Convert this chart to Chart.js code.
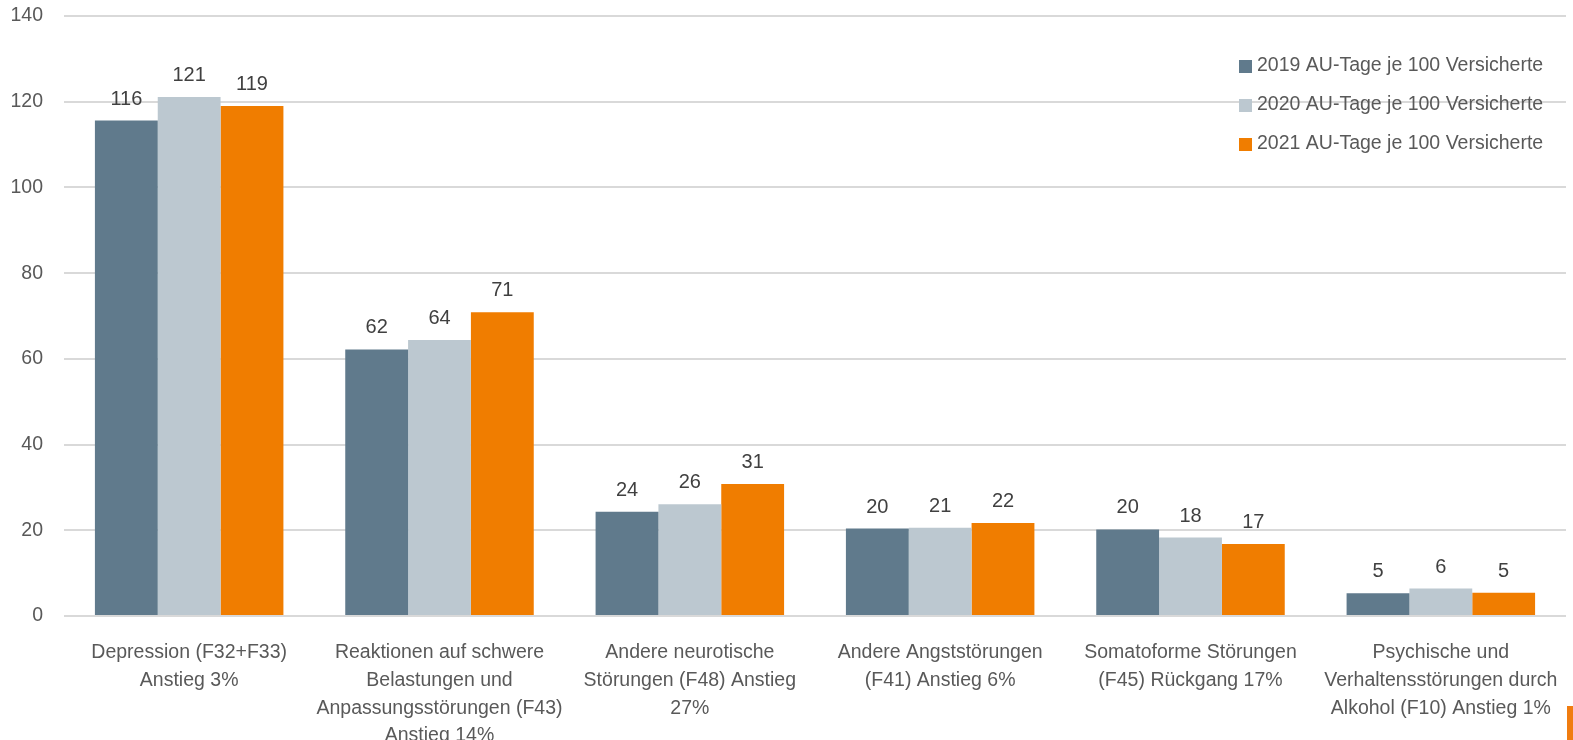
<!DOCTYPE html>
<html>
<head>
<meta charset="utf-8">
<script src="https://cdn.jsdelivr.net/npm/chart.js@4/dist/chart.umd.min.js"></script>
<style>
  html, body { margin: 0; padding: 0; background: #fff; }
  .wrap { position: relative; width: 1573px; height: 740px; }
  .corner { position: absolute; left: 1567px; top: 706px; width: 6px; height: 34px; background: #f07c10; }
</style>
</head>
<body>
<div class="wrap">
  <canvas id="chart" width="1573" height="740"></canvas>
  <div class="corner"></div>
</div>
<script>
const categories = [
  ["Depression (F32+F33)", "Anstieg 3%"],
  ["Reaktionen auf schwere", "Belastungen und", "Anpassungsstörungen (F43)", "Anstieg 14%"],
  ["Andere neurotische", "Störungen (F48) Anstieg", "27%"],
  ["Andere Angststörungen", "(F41) Anstieg 6%"],
  ["Somatoforme Störungen", "(F45) Rückgang 17%"],
  ["Psychische und", "Verhaltensstörungen durch", "Alkohol (F10) Anstieg 1%"],
];
const seriesNames = [
  "2019 AU-Tage je 100 Versicherte",
  "2020 AU-Tage je 100 Versicherte",
  "2021 AU-Tage je 100 Versicherte",
];
const values2019 = [115.6, 62.2, 24.3, 20.4, 20.2, 5.3];
const values2020 = [121.1, 64.4, 26.1, 20.6, 18.3, 6.4];
const values2021 = [119.0, 70.9, 30.8, 21.7, 16.8, 5.4];
const colors = ["#607a8c", "#bcc8d0", "#f07d00"];

const FONT = "'Liberation Sans', Arial, sans-serif";

// value labels above the bars
const barLabels = {
  id: "barLabels",
  afterDatasetsDraw(chart) {
    const ctx = chart.ctx;
    ctx.save();
    ctx.font = "20px " + FONT;
    ctx.fillStyle = "#404040";
    ctx.textAlign = "center";
    ctx.textBaseline = "alphabetic";
    chart.data.datasets.forEach((ds, i) => {
      chart.getDatasetMeta(i).data.forEach((bar, j) => {
        ctx.fillText(Math.round(ds.data[j]), bar.x, bar.y - 16);
      });
    });
    ctx.restore();
  },
};

// vertical legend in the top right corner
const sideLegend = {
  id: "sideLegend",
  afterDraw(chart) {
    const ctx = chart.ctx;
    ctx.save();
    ctx.font = "19.5px " + FONT;
    ctx.textBaseline = "middle";
    ctx.textAlign = "left";
    chart.data.datasets.forEach((ds, i) => {
      const y = 66 + i * 39;
      ctx.fillStyle = ds.backgroundColor;
      ctx.fillRect(1239, y - 6, 13, 13);
      ctx.fillStyle = "#595959";
      ctx.fillText(ds.label, 1257, y);
    });
    ctx.restore();
  },
};

new Chart(document.getElementById("chart"), {
  type: "bar",
  data: {
    labels: categories,
    datasets: [
      { label: seriesNames[0], data: values2019, backgroundColor: colors[0] },
      { label: seriesNames[1], data: values2020, backgroundColor: colors[1] },
      { label: seriesNames[2], data: values2021, backgroundColor: colors[2] },
    ],
  },
  options: {
    responsive: false,
    animation: false,
    layout: { padding: { top: 0, right: 7, left: 0, bottom: 0 } },
    datasets: {
      bar: { categoryPercentage: 0.753, barPercentage: 1.0 },
    },
    scales: {
      x: {
        grid: { display: false },
        border: { display: false },
        ticks: {
          color: "#595959",
          font: { family: FONT, size: 19.5, lineHeight: 1.42 },
          padding: 15,
          maxRotation: 0,
          autoSkip: false,
        },
        afterFit(scale) { scale.height = 124; },
      },
      y: {
        min: 0,
        max: 140,
        ticks: {
          stepSize: 20,
          color: "#595959",
          font: { family: FONT, size: 19.5 },
          padding: 21,
        },
        grid: { color: "#d9d9d9", lineWidth: 2, drawTicks: false },
        border: { display: false },
        afterFit(scale) {
          scale.width = 64;
          scale.paddingTop = 16;
          scale.paddingBottom = 0;
        },
      },
    },
    plugins: {
      legend: { display: false },
      tooltip: { enabled: false },
    },
  },
  plugins: [barLabels, sideLegend],
});
</script>
</body>
</html>
